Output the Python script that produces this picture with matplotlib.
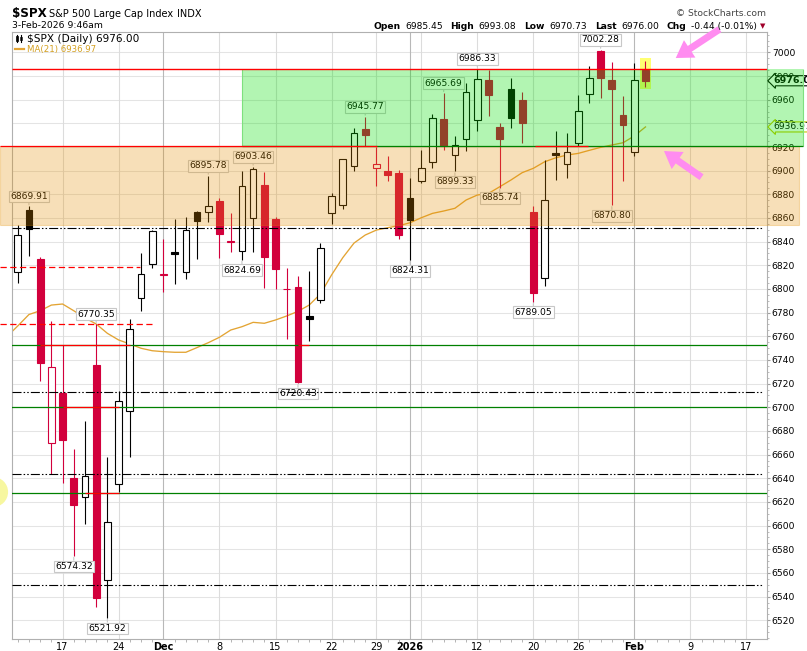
import matplotlib
matplotlib.use("Agg")
import matplotlib.pyplot as plt
from matplotlib.patches import Rectangle, Ellipse
from matplotlib.lines import Line2D
import numpy as np
import pandas as pd

W, H = 807, 651
plt.rcParams['font.family'] = ['DejaVu Sans']
plt.rcParams['lines.scale_dashes'] = False

# ---- data ----
holidays = ["2025-11-27", "2025-12-25", "2026-01-01", "2026-01-19", "2026-02-16"]
days = pd.bdate_range("2025-11-11", "2026-02-17", freq="C", holidays=holidays)

opens = [6814, 6867, 6825, 6670, 6712, 6640, 6624, 6736, 6554, 6635,
         6697, 6792, 6821, 6812.0, 6831, 6814, 6865, 6865, 6874, 6839.8,
         6832, 6860, 6888, 6859, 6799.6, 6802, 6777, 6791, 6864, 6871,
         6904, 6935, 6902, 6900, 6898, 6877, 6891, 6907, 6944, 6913,
         6927, 6943, 6977, 6937, 6969, 6960, 6865, 6809, 6914.6, 6906,
         6923, 6965, 7001, 6977, 6947, 6916, 6985.45]
highs = [6854, 6869.91, 6826.7, 6773, 6752.6, 6664.8, 6688.4, 6770.35, 6658.2, 6714,
         6774.4, 6830, 6849.8, 6842, 6859, 6861, 6866, 6895.78, 6876.9, 6864.5,
         6900, 6903.46, 6899.1, 6860.6, 6817.5, 6811.2, 6815.2, 6839, 6880.8, 6909.8,
         6935.8, 6945.77, 6920.2, 6912.4, 6900.5, 6893.5, 6917.4, 6947.9, 6965.69, 6929.5,
         6973.8, 6986.33, 6985, 6940, 6978, 6966.4, 6870.4, 6909, 6933.8, 6931.6,
         6963.9, 6988.4, 7002.28, 6991.5, 6963.1, 6991.2, 6993.08]
lows = [6805, 6828, 6722.5, 6644, 6636.3, 6574.32, 6601, 6531.5, 6521.92, 6628.7,
        6657.7, 6781.6, 6818, 6797.7, 6804.2, 6808.4, 6825.6, 6856.8, 6825.9, 6831.5,
        6824.69, 6831.5, 6800.6, 6799.7, 6757.7, 6720.43, 6756.3, 6788, 6854.6, 6867.3,
        6900, 6920.8, 6887.3, 6891.5, 6842.2, 6824.31, 6889.8, 6902.5, 6917.7, 6899.33,
        6916.6, 6933.2, 6946.2, 6885.74, 6936.3, 6923.6, 6789.05, 6802.5, 6892.1, 6894,
        6920.8, 6957.4, 6961.6, 6870.80, 6891.5, 6912.4, 6970.73]
closes = [6845.5, 6850.9, 6737.5, 6734.1, 6672.4, 6617.3, 6642.2, 6538.8, 6603.0, 6705.1,
          6765.9, 6812.6, 6849.1, 6812.6, 6829.4, 6849.7, 6857.1, 6870.4, 6846.5, 6840.5,
          6886.7, 6901.0, 6827.4, 6816.5, 6800.3, 6721.4, 6774.8, 6834.5, 6878.5, 6909.8,
          6932.1, 6929.9, 6905.7, 6896.2, 6845.5, 6858.5, 6902.1, 6944.8, 6920.9, 6921.5,
          6966.3, 6977.3, 6963.7, 6926.6, 6944.5, 6940.0, 6796.9, 6875.6, 6913.4, 6915.6,
          6950.2, 6978.6, 6978.0, 6969.0, 6939.0, 6976.44, 6976.0]
# MA(21), first value is the day before the first candle
ma21 = [6759.4, 6768.7, 6778.4, 6781.6, 6786.4, 6787.3, 6781.6, 6775.5, 6770.4, 6762.5,
        6756.9, 6753.5, 6749.9, 6747.8, 6747.0, 6746.5, 6746.5, 6750.5, 6754.6, 6759.2,
        6765.3, 6768.1, 6771.8, 6771.0, 6773.8, 6777.2, 6781.1, 6786.4, 6795.7, 6811.9,
        6826.5, 6838.8, 6845.6, 6849.8, 6851.8, 6853.5, 6856.0, 6860.2, 6863.9, 6865.9,
        6868.2, 6875.2, 6879.4, 6880.8, 6886.4, 6892.1, 6898.3, 6902.0, 6907.5, 6910.9,
        6913.2, 6914.6, 6917.2, 6919.7, 6921.7, 6923.6, 6929.3, 6936.97]

tick_days = ["2025-11-17", "2025-11-24", "2025-12-01", "2025-12-08", "2025-12-15",
             "2025-12-22", "2025-12-29", "2026-01-02", "2026-01-05", "2026-01-12",
             "2026-01-20", "2026-01-26", "2026-02-02", "2026-02-09", "2026-02-17"]
tick_text = ["17", "24", "Dec", "8", "15", "22", "29", "2026", "", "12", "20", "26",
             "Feb", "9", "17"]
bold_ticks = ["Dec", "2026", "Feb"]

# labelled highs / lows (candle index, side)
peak_labels = [(1, "up"), (7, "up"), (17, "up"), (21, "up"), (31, "up"), (38, "up"),
               (41, "up"), (52, "up"), (5, "dn"), (8, "dn"), (20, "dn"), (25, "dn"),
               (35, "dn"), (39, "dn"), (43, "dn"), (46, "dn"), (53, "dn")]

green_levels = [6752.9, 6700.0, 6627.3]
dashdot_levels = [6851.5, 6712.7, 6644.0, 6549.6]
red_dashed = [(6818.3, 10.9), (6770.35, 12.0)]
red_segments = [(6752.9, 2, 10), (6700.0, 4, 9), (6627.3, 6, 9), (6752.9, 25, 26),
                (6920.5, -1.58, 32.05), (6920.5, 46.1, 50.9)]
top_line = 6986.33
green_zone = (6920.5, 6986.33)
orange_zone = (6854.0, 6920.5)

RED = "#d2003c"
XLIM = (-0.51, 66.84)
YLIM = (6503.9, 7017.2)

fig = plt.figure(figsize=(W / 100, H / 100), dpi=100)
ax = fig.add_axes([12 / W, 1 - 639.3 / H, 755 / W, 607.3 / H])
ax.set_xlim(*XLIM)
ax.set_ylim(*YLIM)

tick_pos = [days.get_loc(pd.Timestamp(d)) for d in tick_days]

# grid
for yv in range(6520, 7001, 20):
    ax.axhline(yv, color="#e4e4e4", lw=0.75, zorder=0)
for p, t in zip(tick_pos, tick_text):
    ax.axvline(p, color="#b8b8b8" if t in bold_ticks else "#dcdcdc", lw=0.8, zorder=0)

# MA line
ax.plot(np.arange(-1, len(ma21) - 1), ma21, color="#e3a433", lw=0.95, zorder=2)

# candles
for i in range(len(opens)):
    o, h, l, c = opens[i], highs[i], lows[i], closes[i]
    prev = closes[i - 1] if i > 0 else o
    col = RED if c < prev else "black"
    ax.vlines(i, l, h, color=col, lw=0.8, zorder=3)
    ax.add_patch(Rectangle((i - 0.3, min(o, c)), 0.6, abs(c - o),
                           facecolor=col if c < o else "white", edgecolor=col,
                           lw=0.8, zorder=3.5))

# highlight of last candle
last = len(opens) - 1
ax.add_patch(Rectangle((last - 0.45, lows[last] - 2), 0.9, highs[last] - lows[last] + 4,
                       facecolor="#ffff72", edgecolor="none", zorder=2.8))

# high / low labels
for i, side in peak_labels:
    val = highs[i] if side == "up" else lows[i]
    off = 7 if side == "up" else -7.5
    ax.annotate(f"{val:.2f}", xy=(i, val), xytext=(0, off), textcoords="offset points",
                ha="center", va="center", fontsize=6.6, zorder=6,
                bbox=dict(boxstyle="square,pad=0.15", fc="white", ec="#c8c8c8", lw=0.8),
                arrowprops=dict(arrowstyle="-", color="#c8c8c8", lw=0.8,
                                shrinkA=0, shrinkB=1))

# price tags on the right
yt = ax.get_yaxis_transform()
ax.text(1.008, closes[-1], f"{closes[-1]:.2f}", transform=yt, ha="left", va="center",
        fontsize=6.8, fontweight="bold", zorder=6, clip_on=False,
        bbox=dict(boxstyle="larrow,pad=0.06", fc="white", ec="black", lw=0.8))
ax.text(1.008, ma21[-1], f"{ma21[-1]:.2f}", transform=yt, ha="left", va="center",
        fontsize=6.6, zorder=6, clip_on=False,
        bbox=dict(boxstyle="larrow,pad=0.06", fc="white", ec="#c8c800", lw=0.8))

# zones (translucent, over the candles)
ax.add_patch(Rectangle((-1.58, orange_zone[0]), 71.3, orange_zone[1] - orange_zone[0],
                       fc="#e48f00", ec="#e48f00", alpha=0.28, lw=0.8, zorder=10,
                       clip_on=False))
ax.add_patch(Rectangle((20, green_zone[0]), 50.08, green_zone[1] - green_zone[0],
                       fc="#00de00", ec="none", alpha=0.3, zorder=10, clip_on=False))
ax.vlines([20, 70.08], green_zone[0], green_zone[1], color="#7ee07e", lw=0.8,
          zorder=10.5, clip_on=False)

# horizontal lines (drawn over the zones)
for lv in green_levels:
    ax.axhline(lv, color="#008000", lw=0.9, zorder=11)
for lv in dashdot_levels:
    ax.hlines(lv, -0.51, 66.5, color="black", lw=0.8, zorder=11,
              linestyles=[(0, (6.5, 1.5, 1.1, 1.5, 1.1, 1.5))])
for lv, x1 in red_dashed:
    ax.hlines(lv, -1.58, x1, color="#ff0000", lw=0.9, zorder=11,
              linestyles=[(0, (4.5, 2.5))], clip_on=False)
ax.hlines(top_line, -0.51, 66.84, color="#ff0000", lw=1.0, zorder=11.5)
ax.hlines(green_zone[0], 20, 70.08, color="#008000", lw=0.9, zorder=11, clip_on=False)
for lv, x0, x1 in red_segments:
    ax.hlines(lv, x0, x1, color="#ff0000", lw=0.9, zorder=11.2, clip_on=False)

# pink arrows and yellow dot
pink = "#ff8cf0"
for tip, tail in [((58.7, 6995.2), (62.6, 7019.5)), ((57.65, 6916.6), (61.0, 6894.5))]:
    ax.annotate("", xy=tip, xytext=tail, annotation_clip=False, zorder=20,
                arrowprops=dict(arrowstyle="simple,head_width=1.5,head_length=1.2,tail_width=0.5",
                                fc=pink, ec="none", mutation_scale=10, shrinkA=0, shrinkB=0))
ax.add_patch(Ellipse((-2.2, 6628.4), 2.68, 25.4, fc="#f7f7a0", ec="none", zorder=20,
                     clip_on=False))

# axes styling
for s in ax.spines.values():
    s.set_color("#b0b0b0")
    s.set_linewidth(0.8)
ax.yaxis.tick_right()
ax.set_yticks(range(6520, 7001, 20))
ax.set_yticks(range(6505, 7016, 5), minor=True)
ax.tick_params(axis="y", which="major", length=2, pad=1.5, labelsize=6.6, color="#a0a0a0")
ax.tick_params(axis="y", which="minor", length=1.2, color="#b0b0b0")
ax.set_xticks(tick_pos)
ax.set_xticklabels(tick_text)
ax.set_xticks(np.arange(len(days)), minor=True)
ax.tick_params(axis="x", which="major", length=0, pad=2.2, labelsize=7)
ax.tick_params(axis="x", which="minor", length=2, color="#a8a8a8")
for lab in ax.get_xticklabels():
    if lab.get_text() in bold_ticks:
        lab.set_fontweight("bold")
ax.set_xlim(*XLIM)
ax.set_ylim(*YLIM)


def fx(x):
    return x / W


def fy(y):
    return 1 - y / H


# header
fig.text(fx(12), fy(16.7), "$SPX", fontsize=8.6, fontweight="bold", va="baseline")
fig.text(fx(49), fy(16.7), "S&P 500 Large Cap Index", fontsize=7, va="baseline")
fig.text(fx(177), fy(16.7), "INDX", fontsize=7, va="baseline")
fig.text(fx(12), fy(28.3), "3-Feb-2026 9:46am", fontsize=6.7, va="baseline")
fig.text(fx(766), fy(15.7), "\u00a9 StockCharts.com", fontsize=6.6, color="#444444",
         va="baseline", ha="right")

chg = closes[-1] - closes[-2]
pieces = [("Open", "bold", 4.5), (f"{opens[-1]:.2f}", "normal", 8),
          ("High", "bold", 4.5), (f"{highs[-1]:.2f}", "normal", 8),
          ("Low", "bold", 4.5), (f"{lows[-1]:.2f}", "normal", 8),
          ("Last", "bold", 4.5), (f"{closes[-1]:.2f}", "normal", 8),
          ("Chg", "bold", 4.5), (f"{chg:.2f} ({chg / closes[-2] * 100:.2f}%)", "normal", 0)]
renderer = fig.canvas.get_renderer()
placed = []
cur = 0.0
for s, wgt, gap in pieces:
    t = fig.text(0, fy(28.7), s, fontsize=6.6, fontweight=wgt, va="baseline")
    placed.append((t, cur))
    cur += t.get_window_extent(renderer).width + gap
start = 757 - cur
for t, off in placed:
    t.set_x(fx(start + off))
fig.text(fx(760), fy(28), "\u25bc", fontsize=5, color="#a0002a", va="baseline")

# legend
fig.text(fx(27), fy(41.7), f"$SPX (Daily) {closes[-1]:.2f}", fontsize=7.6, va="baseline")
fig.text(fx(27), fy(52.3), f"MA(21) {ma21[-1]:.2f}", fontsize=6.2, color="#d4a020",
         va="baseline")
fig.add_artist(Line2D([fx(15), fx(24)], [fy(48.7), fy(48.7)], color="#e3a433", lw=1.6))
fig.add_artist(Line2D([fx(16.5), fx(16.5)], [fy(35), fy(42)], color="black", lw=0.8))
fig.add_artist(Rectangle((fx(15.5), fy(41)), fx(2), fy(36) - fy(41), fc="black", ec="black", lw=0.5))
fig.add_artist(Line2D([fx(20.5), fx(20.5)], [fy(35), fy(42)], color="black", lw=0.8))
fig.add_artist(Rectangle((fx(19.5), fy(40)), fx(2), fy(36.5) - fy(40), fc="white", ec="black", lw=0.5))

fig.savefig("out.png", dpi=100)
